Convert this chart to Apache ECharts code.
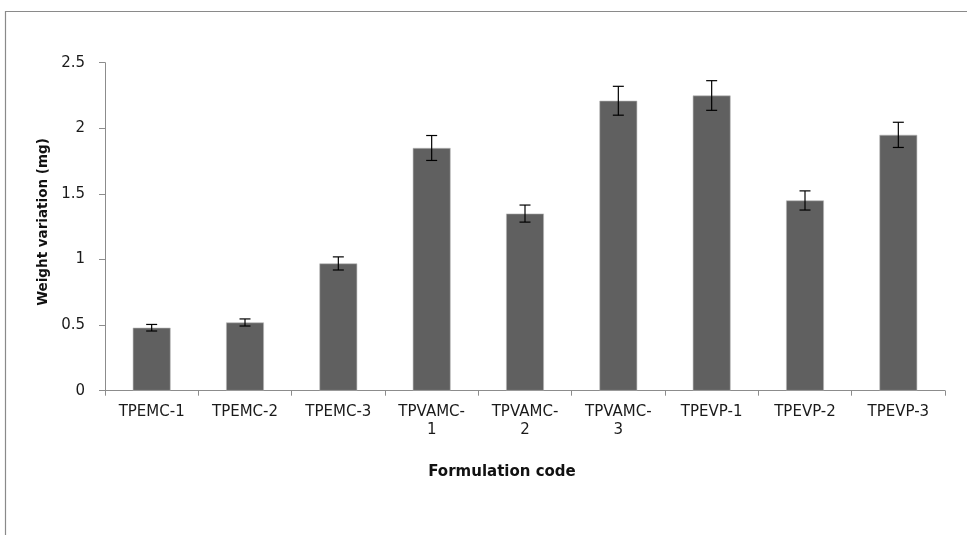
<!DOCTYPE html>
<html>
<head>
<meta charset="utf-8">
<script src="https://cdn.jsdelivr.net/npm/echarts@6/dist/echarts.min.js"></script>
<style>html,body{margin:0;padding:0;background:#fff}#c{width:967px;height:535px}</style>
</head>
<body>
<div id="c"></div>
<script>
var categories = ['TPEMC-1','TPEMC-2','TPEMC-3','TPVAMC-1','TPVAMC-2','TPVAMC-3','TPEVP-1','TPEVP-2','TPEVP-3'];
var means = [0.48, 0.52, 0.97, 1.85, 1.35, 2.21, 2.25, 1.45, 1.95];
var errors = [0.025, 0.027, 0.05, 0.095, 0.065, 0.11, 0.113, 0.073, 0.096];
var yTicks = [0, 0.5, 1, 1.5, 2, 2.5];

var errData = means.map(function (m, i) { return [i, m - errors[i], m + errors[i]]; });
var chart = echarts.init(document.getElementById('c'));
var FONT = 'DejaVu Sans';
chart.setOption({
  animation: false,
  grid: { left: 105, right: 22, top: 62.7, bottom: 144.3 },
  xAxis: {
    type: 'category',
    data: categories,
    axisLine: { lineStyle: { color: '#8c8c8c', width: 1 } },
    axisTick: { show: true, length: 5, lineStyle: { color: '#8c8c8c' } },
    axisLabel: {
      color: '#1a1a1a', fontFamily: FONT, fontSize: 15, margin: 12, lineHeight: 18,
      formatter: function (v) { return v.replace('TPVAMC-', 'TPVAMC-\n'); }
    }
  },
  yAxis: {
    type: 'value', min: yTicks[0], max: yTicks[yTicks.length - 1], interval: 0.5,
    splitLine: { show: false },
    axisLine: { show: true, lineStyle: { color: '#8c8c8c', width: 1 } },
    axisTick: { show: true, length: 6, lineStyle: { color: '#8c8c8c' } },
    axisLabel: { color: '#1a1a1a', fontFamily: FONT, fontSize: 15, margin: 20 }
  },
  series: [
    {
      type: 'bar', data: means, barWidth: '40.5%',
      itemStyle: { color: '#606060', borderColor: '#b8b8b8', borderWidth: 0.6 }
    },
    {
      type: 'custom', data: errData, z: 10,
      renderItem: function (params, api) {
        var x = api.value(0);
        var lo = api.coord([x, api.value(1)]);
        var hi = api.coord([x, api.value(2)]);
        var hw = 5.5;
        var st = { stroke: '#000', lineWidth: 1.2 };
        return { type: 'group', children: [
          { type: 'line', shape: { x1: lo[0], y1: lo[1], x2: hi[0], y2: hi[1] }, style: st },
          { type: 'line', shape: { x1: lo[0] - hw, y1: lo[1], x2: lo[0] + hw, y2: lo[1] }, style: st },
          { type: 'line', shape: { x1: hi[0] - hw, y1: hi[1], x2: hi[0] + hw, y2: hi[1] }, style: st }
        ]};
      }
    }
  ],
  graphic: [
    { type: 'rect', shape: { x: 5.5, y: 11.5, width: 1200, height: 800 }, style: { fill: null, stroke: '#8a8a8a', lineWidth: 1.2 }, silent: true },
    { type: 'text', x: 502, y: 472, style: { text: 'Formulation code', font: 'bold 15px "DejaVu Sans"', fill: '#111', textAlign: 'center', textVerticalAlign: 'middle' } },
    { type: 'text', x: 43, y: 222, rotation: Math.PI / 2, style: { text: 'Weight variation (mg)', font: 'bold 13.5px "DejaVu Sans"', fill: '#111', textAlign: 'center', textVerticalAlign: 'middle' } }
  ]
});
</script>
</body>
</html>
